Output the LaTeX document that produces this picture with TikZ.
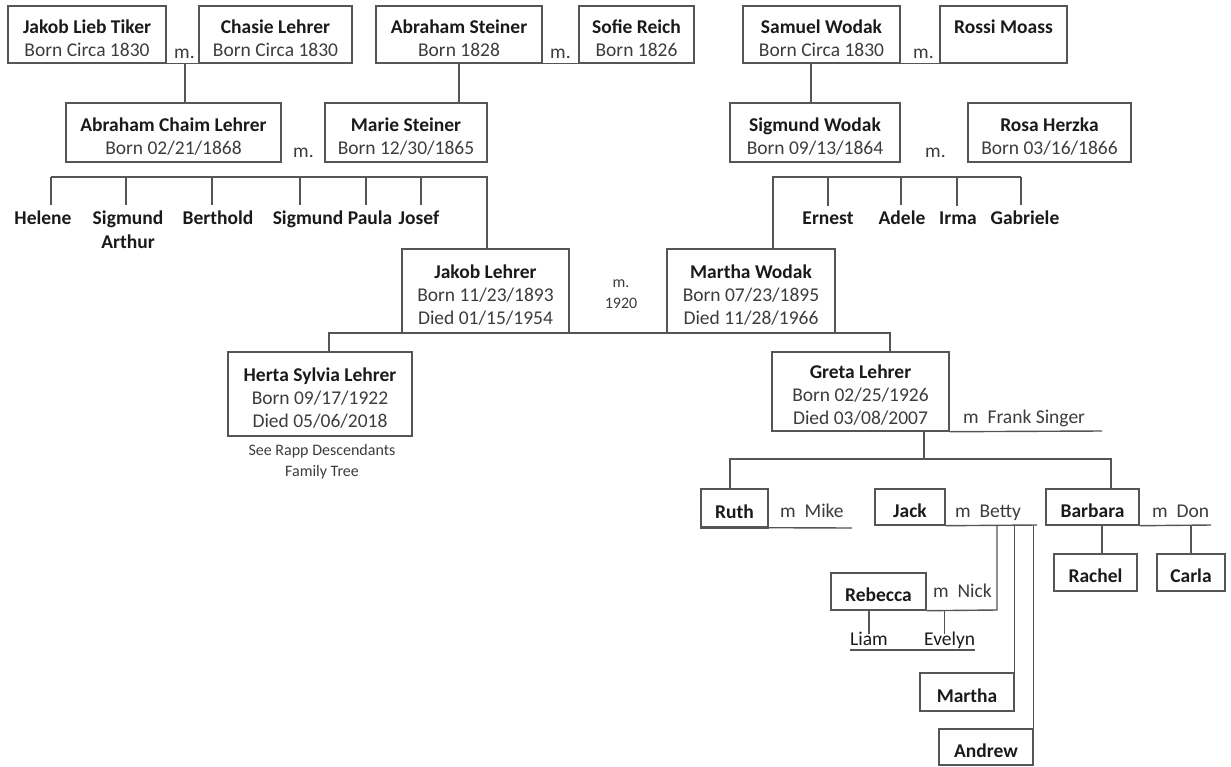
\documentclass[tikz,border=0pt]{standalone}
\usepackage{fontspec}
\setmainfont{Carlito}
\definecolor{linecol}{HTML}{555555}
\definecolor{txtcol}{HTML}{3C3C3C}
\definecolor{namecol}{HTML}{1A1A1A}
\newcommand\who[1]{\rule{0pt}{21pt}{\bfseries\color{namecol}#1}}
\tikzset{%
  person/.style={draw=linecol,line width=1.4pt,align=center,inner sep=0pt,
    text=txtcol,font=\fontsize{19.5}{23}\selectfont},%
  kid/.style={inner xsep=0pt,inner ysep=5pt,align=center,anchor=base,
    text=namecol,font=\bfseries\fontsize{19.5}{24}\selectfont},%
  note/.style={inner sep=0pt,anchor=base west,text=txtcol,
    font=\fontsize{19.5}{23}\selectfont},%
  small/.style={inner sep=0pt,align=center,anchor=base,text=txtcol,
    font=\fontsize{16}{21}\selectfont},%
  tie/.style={draw=linecol,line width=1.4pt}%
}

\begin{document}
\begin{tikzpicture}[x=1pt,y=-1pt]
\useasboundingbox (0,0) rectangle (1231,766);

% grandparents
\node[person,minimum width=158pt,minimum height=57pt] (tiker) at (87,34.5) {\who{Jakob Lieb Tiker}\\Born Circa 1830};
\node[person,minimum width=153pt,minimum height=57pt] (chasie) at (275.5,34.5) {\who{Chasie Lehrer}\\Born Circa 1830};
\node[person,minimum width=166pt,minimum height=57pt] (asteiner) at (459,34.5) {\who{Abraham Steiner}\\Born 1828};
\node[person,minimum width=115pt,minimum height=57pt] (sofie) at (636.5,34.5) {\who{Sofie Reich}\\Born 1826};
\node[person,minimum width=157pt,minimum height=57pt] (samuel) at (821.5,34.5) {\who{Samuel Wodak}\\Born Circa 1830};
\node[person,minimum width=127pt,minimum height=57pt] (rossi) at (1003.5,34.5) {\who{Rossi Moass}\\\mbox{}};
\node[note] (m1) at (174,58) {m.};
\node[note] (m2) at (550,58) {m.};
\node[note] (m3) at (913,58) {m.};
\draw[tie] (tiker.south east) -- (chasie.south west);
\draw[tie] (asteiner.south east) -- (sofie.south west);
\draw[tie] (samuel.south east) -- (rossi.south west);

% parents
\node[person,minimum width=215pt,minimum height=59pt] (achaim) at (173.5,132.5) {\who{Abraham Chaim Lehrer}\\Born 02/21/1868};
\node[person,minimum width=162pt,minimum height=59pt] (marie) at (406,132.5) {\who{Marie Steiner}\\Born 12/30/1865};
\node[person,minimum width=170pt,minimum height=59pt] (sigmund) at (815,132.5) {\who{Sigmund Wodak}\\Born 09/13/1864};
\node[person,minimum width=163pt,minimum height=59pt] (rosa) at (1049.5,132.5) {\who{Rosa Herzka}\\Born 03/16/1866};
\node[note] (m4) at (293,157) {m.};
\node[note] (m5) at (925,157) {m.};
\coordinate (tc) at (185,63);
\coordinate (sw) at (811,63);
\draw[tie] (tc) -- (tc |- achaim.north);
\draw[tie] (asteiner.south) -- (asteiner.south |- marie.north);
\draw[tie] (sw) -- (sw |- sigmund.north);

% Jakob and Martha
\node[person,minimum width=167pt,minimum height=84pt] (jakob) at (485.5,291) {\who{Jakob Lehrer}\\Born 11/23/1893\\Died 01/15/1954};
\node[person,minimum width=168pt,minimum height=84pt] (martha) at (751,291) {\who{Martha Wodak}\\Born 07/23/1895\\Died 11/28/1966};
\node[small] (m6) at (621,308) {m.\\1920};

% siblings
\node[kid] (helene) at (43,224) {Helene};
\node[kid] (arthur) at (128,248) {Sigmund\\Arthur};
\node[kid] (berthold) at (218,224) {Berthold};
\node[kid] (sigmundB) at (308,224) {Sigmund};
\node[kid] (paula) at (370,224) {Paula};
\node[kid] (josef) at (419,224) {Josef};
\node[kid] (ernest) at (828,224) {Ernest};
\node[kid] (adele) at (902,224) {Adele};
\node[kid] (irma) at (958,224) {Irma};
\node[kid] (gabriele) at (1025,224) {Gabriele};

\coordinate (lbarL) at (51,177);
\coordinate (lbarR) at (487,177);
\draw[tie] (lbarL) -- (lbarR) -- (lbarR |- jakob.north);
\foreach \sx/\n in {51/helene,126/arthur,212/berthold,300/sigmundB,366/paula,421/josef}
  \draw[tie] (\sx,0 |- lbarL) -- (\sx,0 |- \n.north);

\coordinate (wbarL) at (773,177);
\coordinate (wbarR) at (1021,177);
\draw[tie] (wbarL |- martha.north) -- (wbarL) -- (wbarR);
\foreach \sx/\n in {828/ernest,901/adele,957/irma,1021/gabriele}
  \draw[tie] (\sx,0 |- wbarL) -- (\sx,0 |- \n.north);

% daughters
\node[person,minimum width=184pt,minimum height=84pt] (herta) at (320,394) {\who{Herta Sylvia Lehrer}\\Born 09/17/1922\\Died 05/06/2018};
\node[small] (rapp) at (322,476) {See Rapp Descendants\\Family Tree};
\node[person,minimum width=177pt,minimum height=79pt] (greta) at (860.5,391.5) {\who{Greta Lehrer}\\Born 02/25/1926\\Died 03/08/2007};
\node[note] (frank) at (963,423) {m\ \ Frank Singer};

\coordinate (jbarL) at (329,333);
\coordinate (jbarR) at (890,333);
\draw[tie] (jbarL |- herta.north) -- (jbarL) -- (jbarR) -- (jbarR |- greta.north);
\coordinate (frankend) at (1102,431);
\draw[tie] (greta.south east) -- (frankend);

% Greta's children
\node[person,minimum width=67pt,minimum height=38pt] (ruth) at (734.5,508) {\who{Ruth}};
\node[person,minimum width=70pt,minimum height=36pt] (jack) at (910,507) {\who{Jack}};
\node[person,minimum width=93pt,minimum height=36pt] (barbara) at (1092.5,507) {\who{Barbara}};
\node[note] (mike) at (780,517) {m\ \ Mike};
\node[note] (betty) at (955,517) {m\ \ Betty};
\node[note] (don) at (1152,517) {m\ \ Don};

\coordinate (gdrop) at (924,459);
\coordinate (gbarL) at (730,459);
\coordinate (gbarR) at (1111,459);
\draw[tie] (gdrop) -- (gdrop |- greta.south);
\draw[tie] (gbarL |- ruth.north) -- (gbarL) -- (gbarR) -- (gbarR |- barbara.north);

\coordinate (mikeend) at (852,528);
\coordinate (bettyend) at (1037,525);
\coordinate (donend) at (1211,525);
\draw[tie,line width=1.8pt] (ruth.south west) -- (ruth.south east);
\draw[tie] (ruth.south east) -- (mikeend);
\draw[tie] (jack.south east) -- (bettyend);
\draw[tie] (barbara.south east) -- (donend);

% grandchildren
\node[person,minimum width=95pt,minimum height=37pt] (rebecca) at (878.5,591.5) {\who{Rebecca}};
\node[note] (nick) at (933,597) {m\ \ Nick};
\node[person,minimum width=94pt,minimum height=38pt] (marthaB) at (967,692) {\who{Martha}};
\node[person,minimum width=94pt,minimum height=36pt] (andrew) at (986,747) {\who{Andrew}};
\node[person,minimum width=83pt,minimum height=37pt] (rachel) at (1095.5,572.5) {\who{Rachel}};
\node[person,minimum width=68pt,minimum height=37pt] (carla) at (1191,572.5) {\who{Carla}};

\coordinate (nickend) at (997,610);
\draw[tie] (rebecca.south east) -- (nickend) -- (nickend |- bettyend);
\draw[tie] (marthaB.north east) -- (marthaB.north east |- bettyend);
\draw[tie] (andrew.north east) -- (andrew.north east |- bettyend);
\draw[tie] ([xshift=6.5pt]rachel.north) -- ([xshift=6.5pt]rachel.north |- barbara.south);
\draw[tie] (carla.north) -- (carla.north |- barbara.south);

\node[note,text=namecol] (liam) at (850,645) {Liam};
\node[note,text=namecol] (evelyn) at (924,645) {Evelyn};
\draw[tie] ([yshift=-3pt]liam.north) -- (liam.north |- rebecca.south);
\draw[tie] ([xshift=-5pt,yshift=-3pt]evelyn.north) -- ([xshift=-5pt]evelyn.north |- rebecca.south);
\draw[tie,line width=1.2pt] ([yshift=-5pt]liam.base west) -- ([yshift=-5pt]evelyn.base east);
\end{tikzpicture}
\end{document}
